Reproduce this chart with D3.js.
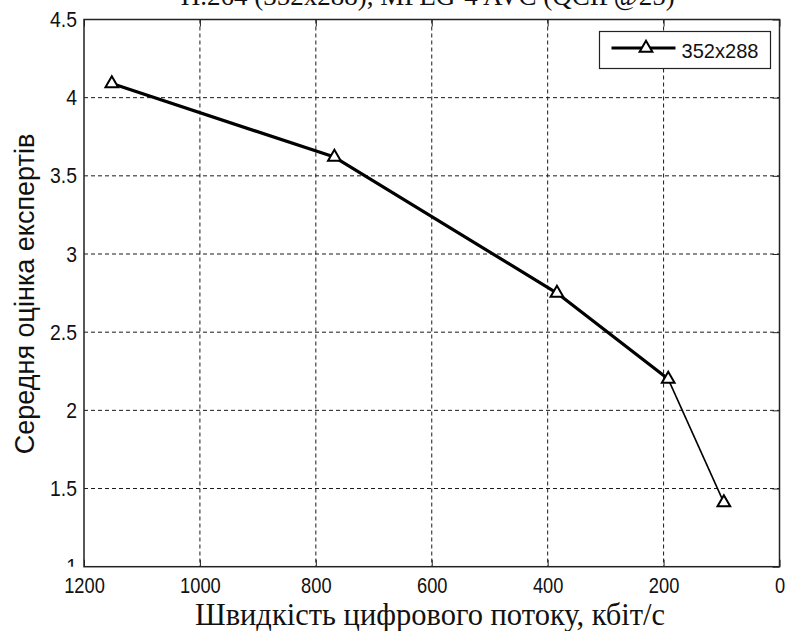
<!DOCTYPE html>
<html>
<head>
<meta charset="utf-8">
<script src="https://cdn.jsdelivr.net/npm/d3@7"></script>
<style>
  html, body { margin: 0; padding: 0; background: #fff; }
  svg { display: block; }
</style>
</head>
<body>
<svg id="chart" width="785" height="631"></svg>
<script>
// Bit rate (kbit/s) and mean opinion score for the 352x288 sequence
const bitrates = [1152, 768, 384, 192, 96];
const scores = [4.09, 3.62, 2.75, 2.2, 1.41];
const seriesName = "352x288";
const xTicks = [1200, 1000, 800, 600, 400, 200, 0];
const yTicks = [1, 1.5, 2, 2.5, 3, 3.5, 4, 4.5];
const titleText = "H.264 (352x288), MPEG-4 AVC (QCIF@25)";
const xLabel = "Швидкість цифрового потоку, кбіт/с";
const yLabel = "Середня оцінка експертів";

const W = 785, H = 631;
const m = { left: 84, right: 5.5, top: 19.5, bottom: 64.3 };
const iw = W - m.left - m.right, ih = H - m.top - m.bottom;

const svg = d3.select("#chart");
const sans = "'Liberation Sans', Arial, sans-serif";
const serif = "'Liberation Serif', 'Times New Roman', serif";

// Squeeze a text horizontally so its glyphs read narrow, keeping its anchor
function squeeze(sel, ratio) {
  sel.each(function () {
    const len = this.getComputedTextLength();
    if (len > 0) {
      d3.select(this).attr("textLength", len * ratio).attr("lengthAdjust", "spacingAndGlyphs");
    }
  });
}

const x = d3.scaleLinear().domain([1200, 0]).range([0, iw]);
const y = d3.scaleLinear().domain([1, 4.5]).range([ih, 0]);

// Title (sits mostly above the visible area)
svg.append("text")
  .attr("x", m.left + iw / 2 - 4).attr("y", 5)
  .attr("text-anchor", "middle")
  .attr("font-family", serif)
  .attr("font-size", 27).attr("fill", "#111")
  .text(titleText);

const defs = svg.append("defs");
defs.append("clipPath").attr("id", "ylab-clip")
  .append("rect").attr("x", -80).attr("y", -30).attr("width", 80).attr("height", ih + 30);

const g = svg.append("g").attr("transform", `translate(${m.left},${m.top})`);

g.append("rect").attr("width", iw).attr("height", ih).attr("fill", "#fff");

// Dashed grid
g.append("g").selectAll("line").data(xTicks.slice(1, -1)).join("line")
  .attr("x1", d => x(d)).attr("x2", d => x(d))
  .attr("y1", 0).attr("y2", ih)
  .attr("stroke", "#1a1a1a").attr("stroke-width", 1).attr("stroke-dasharray", "4,3");
g.append("g").selectAll("line").data(yTicks.slice(1, -1)).join("line")
  .attr("x1", 0).attr("x2", iw)
  .attr("y1", d => y(d)).attr("y2", d => y(d))
  .attr("stroke", "#1a1a1a").attr("stroke-width", 1).attr("stroke-dasharray", "4,3");

// Axes with inward ticks on all four sides
const styleAxis = sel => {
  sel.select(".domain").remove();
  sel.selectAll(".tick line").attr("stroke", "#222").attr("stroke-width", 1);
  sel.selectAll("text").attr("font-family", sans).attr("font-size", 22).attr("fill", "#111");
};
g.append("g").attr("transform", `translate(0,${ih})`)
  .call(d3.axisBottom(x).tickValues(xTicks).tickFormat(d3.format("d")).tickSizeInner(-7).tickSizeOuter(0).tickPadding(11))
  .call(styleAxis)
  .call(a => squeeze(a.selectAll("text"), 0.83));
g.append("g")
  .call(d3.axisTop(x).tickValues(xTicks).tickFormat("").tickSizeInner(-7).tickSizeOuter(0))
  .call(styleAxis);
g.append("g").attr("clip-path", "url(#ylab-clip)")
  .call(d3.axisLeft(y).tickValues(yTicks).tickFormat(d3.format("")).tickSizeInner(-7).tickSizeOuter(0).tickPadding(7))
  .call(styleAxis)
  .call(a => squeeze(a.selectAll("text"), 0.88));
g.append("g").attr("transform", `translate(${iw},0)`)
  .call(d3.axisRight(y).tickValues(yTicks).tickFormat("").tickSizeInner(-7).tickSizeOuter(0))
  .call(styleAxis);

// Axes box
g.append("rect").attr("width", iw).attr("height", ih)
  .attr("fill", "none").attr("stroke", "#222").attr("stroke-width", 1.5);

// Data line: heavier stroke down to 192 kbit/s, light final segment
const pts = bitrates.map((b, i) => [b, scores[i]]);
const line = d3.line().x(d => x(d[0])).y(d => y(d[1]));
g.append("path").datum(pts.slice(0, 4)).attr("d", line)
  .attr("fill", "none").attr("stroke", "#000").attr("stroke-width", 3.2)
  .attr("stroke-linejoin", "round");
g.append("path").datum(pts.slice(3)).attr("d", line)
  .attr("fill", "none").attr("stroke", "#000").attr("stroke-width", 1.6);

const tri = d3.symbol().type(d3.symbolTriangle).size(70);
g.append("g").selectAll("path").data(pts).join("path")
  .attr("transform", d => `translate(${x(d[0])},${y(d[1])})`)
  .attr("d", tri)
  .attr("fill", "#fff").attr("stroke", "#000").attr("stroke-width", 2);

// Legend
const lg = svg.append("g").attr("transform", "translate(599.5,31.5)");
lg.append("rect").attr("width", 171).attr("height", 37)
  .attr("fill", "#fff").attr("stroke", "#222").attr("stroke-width", 1.2);
lg.append("line").attr("x1", 12).attr("x2", 76).attr("y1", 16.5).attr("y2", 16.5)
  .attr("stroke", "#000").attr("stroke-width", 3.2);
lg.append("path").attr("transform", "translate(46.5,16.5)").attr("d", tri)
  .attr("fill", "#fff").attr("stroke", "#000").attr("stroke-width", 2);
lg.append("text").attr("x", 82).attr("y", 26)
  .attr("font-family", sans).attr("font-size", 21).attr("fill", "#111")
  .text(seriesName)
  .attr("textLength", 77).attr("lengthAdjust", "spacingAndGlyphs");

// Axis titles
svg.append("text")
  .attr("x", 430).attr("y", 625)
  .attr("text-anchor", "middle")
  .attr("font-family", serif)
  .attr("font-size", 30.5).attr("fill", "#111")
  .text(xLabel);
svg.append("text")
  .attr("transform", `translate(34,294) rotate(-90)`)
  .attr("text-anchor", "middle")
  .attr("font-family", sans)
  .attr("font-size", 27).attr("fill", "#111")
  .text(yLabel);
</script>
</body>
</html>
